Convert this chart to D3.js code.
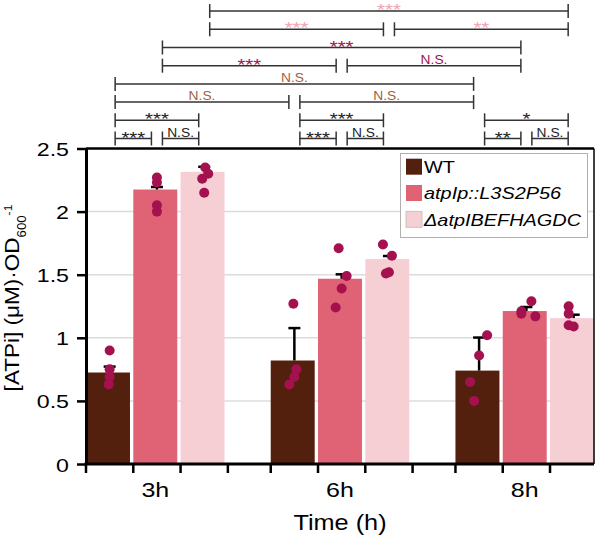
<!DOCTYPE html>
<html>
<head>
<meta charset="utf-8">
<script src="https://cdn.jsdelivr.net/npm/d3@7"></script>
<style>
  html, body { margin: 0; padding: 0; background: #fff; }
  svg { display: block; }
  text { font-family: "Liberation Sans", Arial, sans-serif; }
</style>
</head>
<body>
<script>
// ---------------- data ----------------
const timepoints = ["3h", "6h", "8h"];
const strains = ["WT", "atpIp::L3S2P56", "ΔatpIBEFHAGDC"];
const meanWT  = [0.725, 0.82, 0.74];
const meanAtp = [2.175, 1.468, 1.212];
const meanDel = [2.315, 1.624, 1.156];
const semWT  = [0.047, 0.257, 0.262];
const semAtp = [0.020, 0.035, 0.032];
const semDel = [0.040, 0.024, 0.027];
const pointsWT  = [[0.90, 0.75, 0.69, 0.63], [1.27, 0.75, 0.69, 0.63], [1.02, 0.86, 0.65, 0.50]];
const pointsAtp = [[2.27, 2.23, 2.05, 2.00], [1.71, 1.49, 1.39, 1.24], [1.29, 1.21, 1.19, 1.17]];
const pointsDel = [[2.35, 2.30, 2.26, 2.15], [1.74, 1.65, 1.52, 1.51], [1.25, 1.19, 1.10, 1.09]];
const yTicks = [0, 0.5, 1, 1.5, 2, 2.5];
const yTickLabels = ["0", "0.5", "1", "1.5", "2", "2.5"];
// significance comparisons: [timeA, strainA, timeB, strainB, row, label, colourKey]
const comparisons = [
  [0, 0, 0, 1, 0, "***", "k"], [0, 1, 0, 2, 0, "N.S.", "k"],
  [1, 0, 1, 1, 0, "***", "k"], [1, 1, 1, 2, 0, "N.S.", "k"],
  [2, 0, 2, 1, 0, "**", "k"],  [2, 1, 2, 2, 0, "N.S.", "k"],
  [0, 0, 0, 2, 1, "***", "k"], [1, 0, 1, 2, 1, "***", "k"], [2, 0, 2, 2, 1, "*", "k"],
  [0, 0, 1, 0, 2, "N.S.", "wt"], [1, 0, 2, 0, 2, "N.S.", "wt"],
  [0, 0, 2, 0, 3, "N.S.", "wt"],
  [0, 1, 1, 1, 4, "***", "atp"], [1, 1, 2, 1, 4, "N.S.", "atp"],
  [0, 1, 2, 1, 5, "***", "atp"],
  [0, 2, 1, 2, 6, "***", "del"], [1, 2, 2, 2, 6, "**", "del"],
  [0, 2, 2, 2, 7, "***", "del"]
];

// ---------------- styling ----------------
const W = 597, H = 538;
const plot = { left: 86, right: 594, top: 148.5, bottom: 464 };
const barColors = ["#54200e", "#e06275", "#f6cfd5"];
const pointColor = "#a5104f";
const sigColors = { k: "#222222", wt: "#a0603f", atp: "#a5104f", del: "#f0a3b3" };
// small horizontal jitter of replicate dots (px)
const jitter = [
  [[0, 0, 0, -1], [-1, 2, 0, -5], [8, 0, -9, -5]],
  [[0, 0, 0, 0], [-3, 5, 0, -6], [5, -5, -5, 9]],
  [[1, 4, -2, 0], [-6, 3, 0, -3], [-5, -5, -5, 0]]
];

const means = [meanWT, meanAtp, meanDel];
const sems = [semWT, semAtp, semDel];
const points = [pointsWT, pointsAtp, pointsDel];

const svg = d3.select("body").append("svg").attr("width", W).attr("height", H);

const x0 = d3.scaleBand().domain(timepoints).range([plot.left, plot.right])
  .paddingInner(0.25).paddingOuter(0);
const x1 = d3.scaleBand().domain(strains).range([0, x0.bandwidth()])
  .paddingInner(0.07).paddingOuter(0.0);
const y = d3.scaleLinear().domain([0, 2.5]).range([plot.bottom, plot.top]);

const step1 = x1.step();
const cx = (t, s) => x0(timepoints[t]) + step1 * s + step1 / 2 - 1.5;

function stretchText(sel, sx) {
  sel.each(function () {
    const t = d3.select(this);
    const xx = +t.attr("x") || 0, yy = +t.attr("y") || 0;
    t.attr("x", 0).attr("y", 0).attr("transform", `translate(${xx},${yy}) scale(${sx},1)`);
  });
}

// grid
svg.append("g").selectAll("line").data(yTicks.filter(d => d > 0 && d < 2.5)).join("line")
  .attr("x1", plot.left).attr("x2", plot.right)
  .attr("y1", d => y(d)).attr("y2", d => y(d))
  .attr("stroke", "#dcdcdc").attr("stroke-width", 1.5);

// bars
const flat = [];
timepoints.forEach((tp, t) => strains.forEach((st, s) => {
  flat.push({ t, s, tp, st, mean: means[s][t], sem: sems[s][t], pts: points[s][t] });
}));

svg.append("g").selectAll("rect").data(flat).join("rect")
  .attr("x", d => x0(d.tp) + x1(d.st))
  .attr("y", d => y(d.mean))
  .attr("width", x1.bandwidth())
  .attr("height", d => y(0) - y(d.mean))
  .attr("fill", d => barColors[d.s]);

// error bars
const eb = svg.append("g").attr("stroke", "#000").attr("stroke-width", 2.5);
flat.forEach(d => {
  const xc = cx(d.t, d.s) + 1.5;
  eb.append("line").attr("x1", xc).attr("x2", xc).attr("y1", y(d.mean)).attr("y2", y(d.mean + d.sem));
  eb.append("line").attr("x1", xc - 6).attr("x2", xc + 6).attr("y1", y(d.mean + d.sem)).attr("y2", y(d.mean + d.sem));
});

// points
const pg = svg.append("g");
flat.forEach(d => {
  d.pts.forEach((v, i) => {
    pg.append("circle").attr("cx", cx(d.t, d.s) + 1.5 + jitter[d.s][d.t][i]).attr("cy", y(v))
      .attr("r", 5).attr("fill", pointColor);
  });
});

// frame
svg.append("line").attr("x1", plot.left).attr("x2", plot.right).attr("y1", plot.top).attr("y2", plot.top)
  .attr("stroke", "#000").attr("stroke-width", 2.5);
svg.append("line").attr("x1", plot.right).attr("x2", plot.right).attr("y1", plot.top).attr("y2", plot.bottom)
  .attr("stroke", "#000").attr("stroke-width", 1.5);

// y axis
const yAxis = svg.append("g").attr("transform", `translate(${plot.left},0)`)
  .call(d3.axisLeft(y).tickValues(yTicks).tickFormat((d, i) => yTickLabels[i]).tickSize(9).tickSizeOuter(0));
yAxis.select(".domain").attr("stroke-width", 3);
yAxis.selectAll(".tick line").attr("stroke-width", 2.5);
yAxis.selectAll(".tick text").attr("font-size", 19).attr("fill", "#000").attr("x", -17).attr("dy", null).attr("y", 7);
stretchText(yAxis.selectAll(".tick text"), 1.22);

// x axis
const bounds = [];
timepoints.forEach((tp, t) => {
  for (let s = 0; s < 3; s++) bounds.push(x0(tp) + step1 * s);
  if (t < timepoints.length - 1) bounds.push(x0(tp) + step1 * 3);
});
svg.append("line").attr("x1", plot.left - 1.5).attr("x2", plot.right).attr("y1", plot.bottom).attr("y2", plot.bottom)
  .attr("stroke", "#000").attr("stroke-width", 3);
svg.append("g").selectAll("line").data(bounds).join("line")
  .attr("x1", d => d).attr("x2", d => d).attr("y1", plot.bottom).attr("y2", plot.bottom + 9)
  .attr("stroke", "#000").attr("stroke-width", 2.5);
const xl = svg.append("g").selectAll("text").data(timepoints).join("text")
  .attr("x", d => x0(d) + x0.bandwidth() / 2).attr("y", 497)
  .attr("text-anchor", "middle").attr("font-size", 20).text(d => d);
stretchText(xl, 1.25);

// axis titles
const xt = svg.append("text").attr("x", (plot.left + plot.right) / 2).attr("y", 530)
  .attr("text-anchor", "middle").attr("font-size", 22).text("Time (h)");
stretchText(xt, 1.15);

const yt = svg.append("text").attr("text-anchor", "middle").attr("font-size", 20.5)
  .attr("transform", `translate(18.5,298) rotate(-90) scale(1.1,1)`);
yt.append("tspan").text("[ATPi] (μM)·OD");
yt.append("tspan").attr("font-size", 12).attr("dy", 7).text("600");
yt.append("tspan").attr("font-size", 11).attr("dy", -14).text("-1");

// legend
const lg = svg.append("g");
lg.append("rect").attr("x", 400.5).attr("y", 153.5).attr("width", 187).attr("height", 84)
  .attr("fill", "#fff").attr("stroke", "#b0b0b0").attr("stroke-width", 1);
strains.forEach((st, i) => {
  const cy = 166.7 + i * 26.3;
  lg.append("rect").attr("x", 406).attr("y", cy - 8).attr("width", 16).attr("height", 16)
    .attr("fill", barColors[i]).attr("stroke", i === 2 ? "#bbb" : "none").attr("stroke-width", 0.8);
  const tx = lg.append("text").attr("x", 424).attr("y", cy + 6.3).attr("font-size", 17)
    .attr("font-style", i === 0 ? "normal" : "italic").text(st);
  stretchText(tx, 1.17);
});

// significance brackets
const sg = svg.append("g");
const rowY = r => 138.5 - r * 18.2;
comparisons.forEach(c => {
  const [ta, sa, tb, sb, row, label, ck] = c;
  const xa = cx(ta, sa) + 1.5 + 5.5, xb = cx(tb, sb) + 1.5 - 5.5, yy = rowY(row);
  const g = sg.append("g").attr("stroke", "#333").attr("stroke-width", 1.5);
  g.append("line").attr("x1", xa).attr("x2", xb).attr("y1", yy).attr("y2", yy);
  g.append("line").attr("x1", xa).attr("x2", xa).attr("y1", yy - 7).attr("y2", yy + 7);
  g.append("line").attr("x1", xb).attr("x2", xb).attr("y1", yy - 7).attr("y2", yy + 7);
  const isStar = label.startsWith("*");
  const t = sg.append("text").attr("x", (xa + xb) / 2).attr("y", isStar ? yy + 5 : yy - 2)
    .attr("text-anchor", "middle").attr("font-size", isStar ? 17 : 12)
    .attr("fill", sigColors[ck]).text(label);
  stretchText(t, isStar ? 1.2 : 1.15);
});
</script>
</body>
</html>
